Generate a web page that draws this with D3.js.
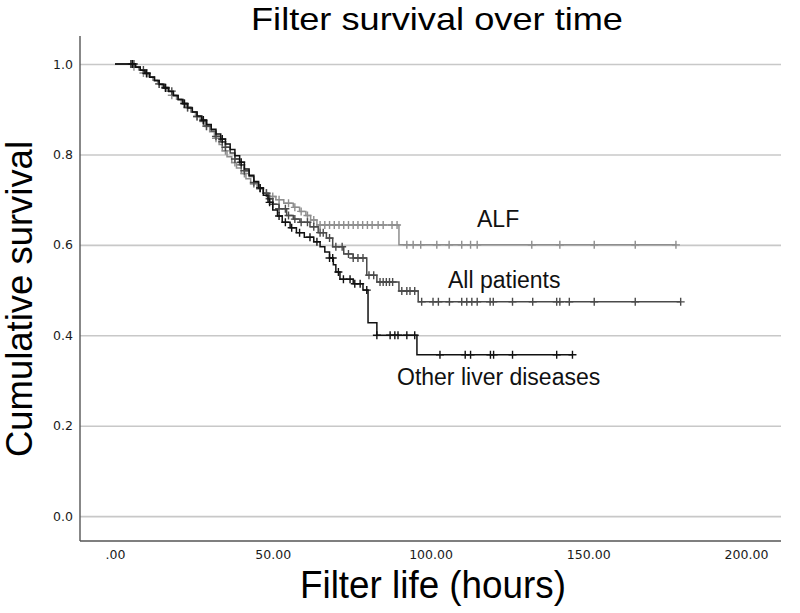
<!DOCTYPE html>
<html>
<head>
<meta charset="utf-8">
<script src="https://cdn.jsdelivr.net/npm/d3@7"></script>
<style>
  body { margin: 0; background: #fff; }
  svg { display: block; }
</style>
</head>
<body>
<svg id="km" width="800" height="613"></svg>
<script>
// survival steps [hours, survival after the drop]
var alfSteps = [[6,0.994],[7.5,0.987],[9,0.980],[10.5,0.972],[12,0.964],[13.5,0.956],[15,0.948],[16.5,0.940],
  [18,0.931],[19.5,0.922],[21,0.913],[22.5,0.904],[24,0.894],[25.5,0.884],[27,0.873],[28.5,0.862],[30,0.850],
  [31.5,0.836],[33,0.822],[34,0.808],[35.5,0.795],[37,0.782],[38.5,0.770],[40,0.758],[41.5,0.746],[43,0.735],
  [45,0.724],[47,0.715],[49,0.707],[51,0.700],[53.5,0.692],[56.5,0.683],[58.5,0.674],[60.5,0.665],[62,0.655],
  [64,0.644],[90,0.600]];
var alfCensor = [5,6,9,14,18,23,26,29,32,35,38,41,44,46,48,50,52,55,57,59,61,63,65,66.5,68,69.5,71,72.5,74,
  75.5,77,78.5,80,81.5,83.4,85,87.8,89.4,92.5,94.5,96.9,102,105.9,109.9,112.7,114.8,132.1,141,151.9,164.9,177.8];

var otherSteps = [[6.5,0.993],[8,0.986],[9.5,0.979],[11,0.971],[12.5,0.963],[14,0.955],[15.5,0.947],[17,0.939],
  [18.5,0.930],[20,0.921],[21.5,0.912],[23,0.903],[24.5,0.894],[26,0.885],[27.5,0.876],[29,0.866],[30.5,0.856],
  [32,0.845],[33.5,0.834],[35,0.823],[36.5,0.811],[38,0.797],[39.5,0.783],[41,0.768],[42.5,0.754],[44,0.740],
  [45.5,0.726],[47,0.710],[48.5,0.694],[50,0.677],[51.5,0.664],[53,0.650],[55.5,0.638],[57.5,0.627],[60,0.617],
  [63,0.607],[65,0.596],[66.5,0.584],[68,0.571],[69.2,0.556],[70,0.540],[71.3,0.524],[75.5,0.514],[78.6,0.500],
  [80.2,0.428],[83,0.400],[95.7,0.357]];
var otherCensor = [5.5,10,16,22,28,34,40,46,49,52,54,56,58.5,61.8,64,68,69,70.8,72.4,74.5,76,77.7,79.8,83,87.2,
  88.7,89.7,92.5,95,103,111,112.7,119,120,126,140,145];

var allSteps = [[6.5,0.994],[8,0.987],[9.5,0.980],[11,0.972],[12.5,0.964],[14,0.956],[15.5,0.948],[17,0.940],
  [18.5,0.931],[20,0.922],[21.5,0.913],[23,0.904],[24.5,0.894],[26,0.884],[27.5,0.874],[29,0.863],[30.5,0.852],
  [32,0.840],[33.5,0.828],[35,0.816],[36.5,0.803],[38,0.790],[39.5,0.777],[41,0.764],[42.5,0.751],[44,0.738],
  [45.5,0.726],[47,0.714],[48.5,0.702],[50,0.690],[52,0.680],[54.4,0.665],[56.5,0.657],[58.6,0.650],[61.8,0.640],
  [64.4,0.627],[67,0.615],[69,0.596],[72.5,0.580],[75.5,0.571],[79.8,0.533],[83,0.518],[90,0.498],[96.1,0.474]];
var allCensor = [5,5.5,6,9,10,14,16,18,22,23,26,28,29,32,34,35,38,40,41,44,46,48,49,50,52,54,55,57,59,61,63,65,
  66,68,70,72,74,75.5,77,78.6,80.5,82,84,85,86,87,88,90.9,92.5,93.5,95,97.2,100.8,102.5,106,109.9,111.5,113.1,
  114.8,118.9,119.9,126,132.4,140,141,144,151.9,164.9,179.3];

var seriesNames = ["ALF", "All patients", "Other liver diseases"];
var seriesColors = ["#8e8e8e", "#4a4a4a", "#111111"];
var yTicks = [0, 0.2, 0.4, 0.6, 0.8, 1.0];
var xTicks = [0, 50, 100, 150, 200];

var svg = d3.select("#km");
var plotL = 80, plotR = 781, plotT = 36, plotB = 541;

var x = d3.scaleLinear().domain([-11.1, 211.1]).range([plotL, plotR]);
var y = d3.scaleLinear().domain([-0.055, 1.062]).range([plotB, plotT]);

function styleTicks(g) {
  g.selectAll(".tick text")
    .attr("font-family", "'DejaVu Sans', sans-serif")
    .attr("font-size", 12.5)
    .attr("fill", "#1a1a1a");
}

// grid
svg.append("g")
  .attr("transform", "translate(" + plotL + ",0)")
  .call(d3.axisLeft(y).tickValues(yTicks).tickSize(-(plotR - plotL)).tickFormat(""))
  .call(function(g) {
    g.select(".domain").remove();
    g.selectAll("line").attr("stroke", "#c8c8c8").attr("stroke-width", 1.6);
  });

// y axis
svg.append("g")
  .attr("transform", "translate(" + plotL + ",0)")
  .call(d3.axisLeft(y).tickValues(yTicks).tickSize(0).tickPadding(7).tickFormat(d3.format(".1f")))
  .call(styleTicks)
  .call(function(g) {
    g.select(".domain").attr("stroke", "#555").attr("stroke-width", 1.4).attr("d", "M0," + plotT + "V" + plotB);
  });

// x axis
svg.append("g")
  .attr("transform", "translate(0," + plotB + ")")
  .call(d3.axisBottom(x).tickValues(xTicks).tickSize(0).tickPadding(9)
    .tickFormat(function(d) { return d === 0 ? ".00" : d3.format(".2f")(d); }))
  .call(styleTicks)
  .call(function(g) {
    g.select(".domain").attr("stroke", "#555").attr("stroke-width", 1.4).attr("d", "M" + plotL + ",0H" + plotR);
  });

function survivalAt(steps, t) {
  var s = 1;
  for (var i = 0; i < steps.length; i++) {
    if (steps[i][0] <= t) s = steps[i][1];
  }
  return s;
}

var line = d3.line()
  .x(function(d) { return x(d[0]); })
  .y(function(d) { return y(d[1]); })
  .curve(d3.curveStepAfter);

var series = [
  {steps: alfSteps, censor: alfCensor},
  {steps: allSteps, censor: allCensor},
  {steps: otherSteps, censor: otherCensor}
];

series.forEach(function(s, i) {
  var end = d3.max(s.censor);
  var pts = [[0, 1]].concat(s.steps);
  pts.push([end, survivalAt(s.steps, end)]);
  svg.append("path")
    .datum(pts)
    .attr("d", line)
    .attr("fill", "none")
    .attr("stroke", seriesColors[i])
    .attr("stroke-width", 1.5);

  svg.append("g").selectAll("path")
    .data(s.censor)
    .enter()
    .append("path")
    .attr("d", function(t) {
      var cx = x(t), cy = y(survivalAt(s.steps, t));
      return "M" + (cx - 4) + "," + cy + "H" + (cx + 4) + "M" + cx + "," + (cy - 4) + "V" + (cy + 4);
    })
    .attr("stroke", seriesColors[i])
    .attr("stroke-width", 1.4)
    .attr("fill", "none");
});

// curve labels
var labelFont = "'Liberation Sans', Arial, sans-serif";
var labelPos = [[477, 227], [448, 288], [397, 385]];
seriesNames.forEach(function(n, i) {
  svg.append("text")
    .attr("x", labelPos[i][0])
    .attr("y", labelPos[i][1])
    .attr("font-family", labelFont)
    .attr("font-size", 23)
    .attr("fill", "#111")
    .text(n);
});

// titles
svg.append("text")
  .attr("x", 437).attr("y", 30)
  .attr("text-anchor", "middle")
  .attr("font-family", labelFont)
  .attr("font-size", 32)
  .attr("fill", "#000")
  .attr("textLength", 372)
  .attr("lengthAdjust", "spacingAndGlyphs")
  .text("Filter survival over time");

svg.append("text")
  .attr("x", 433).attr("y", 598)
  .attr("text-anchor", "middle")
  .attr("font-family", labelFont)
  .attr("font-size", 38)
  .attr("fill", "#000")
  .attr("textLength", 266)
  .attr("lengthAdjust", "spacingAndGlyphs")
  .text("Filter life (hours)");

svg.append("text")
  .attr("transform", "translate(32,299) rotate(-90)")
  .attr("text-anchor", "middle")
  .attr("font-family", labelFont)
  .attr("font-size", 36)
  .attr("fill", "#000")
  .attr("textLength", 316)
  .attr("lengthAdjust", "spacingAndGlyphs")
  .text("Cumulative survival");
</script>
</body>
</html>
